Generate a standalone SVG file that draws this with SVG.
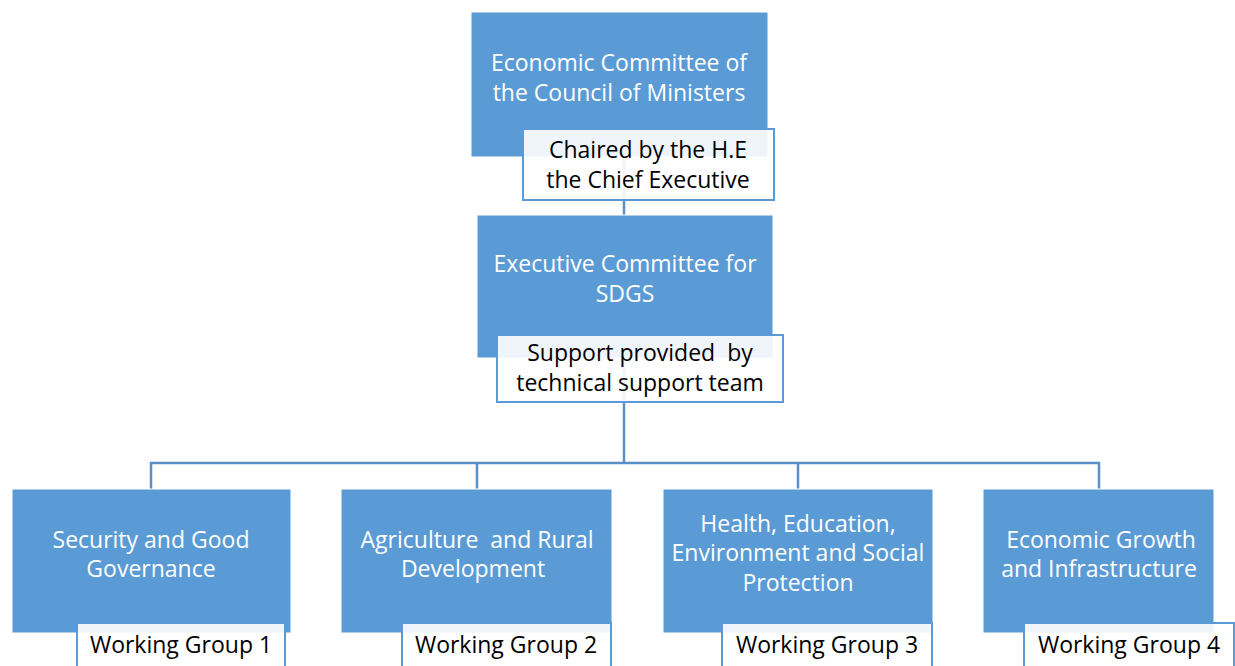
<svg xmlns="http://www.w3.org/2000/svg" width="1235" height="666" viewBox="0 0 1235 666">
<style>
.box{fill:#5b9bd5;stroke:#ffffff;stroke-width:1}
.lbl{fill:#ffffff;fill-opacity:0.9;stroke:#5b9bd5;stroke-width:2}
.wt{font-family:"Open Sans","Liberation Sans",sans-serif;font-size:23px;fill:#ffffff;text-anchor:middle}
.bt{font-family:"Open Sans","Liberation Sans",sans-serif;font-size:23px;fill:#000000;text-anchor:middle}
.con{fill:none;stroke:#5b8fc7;stroke-width:2.5}
</style>
<rect width="1235" height="666" fill="#ffffff"/>
<g id="connectors">
<line class="con" x1="624" y1="157" x2="624" y2="215"/>
<line class="con" x1="624" y1="358" x2="624" y2="463"/>
<polyline class="con" points="151,489 151,463 1099,463 1099,489"/>
<line class="con" x1="477" y1="463" x2="477" y2="489"/>
<line class="con" x1="798" y1="463" x2="798" y2="489"/>
</g>
<g id="n1">
<rect class="box" x="471" y="12" width="297" height="145"/>
<text class="wt" x="619" y="71">Economic Committee of</text>
<text class="wt" x="619" y="101">the Council of Ministers</text>
<rect class="lbl" x="523" y="129" width="251" height="71"/>
<text class="bt" x="648" y="158">Chaired by the H.E</text>
<text class="bt" x="648" y="188">the Chief Executive</text>
</g>
<g id="n2">
<rect class="box" x="477" y="215" width="296" height="143"/>
<text class="wt" x="625" y="272">Executive Committee for</text>
<text class="wt" x="625" y="302">SDGS</text>
<rect class="lbl" x="497" y="335" width="286" height="67"/>
<text class="bt" x="640" y="361" xml:space="preserve">Support provided  by</text>
<text class="bt" x="640" y="391">technical support team</text>
</g>
<g id="wg1">
<rect class="box" x="12" y="489" width="279" height="144"/>
<text class="wt" x="151" y="548">Security and Good</text>
<text class="wt" x="151" y="577">Governance</text>
<rect class="lbl" x="77" y="623" width="208" height="60"/>
<text class="bt" x="181" y="653">Working Group 1</text>
</g>
<g id="wg2">
<rect class="box" x="341" y="489" width="271" height="144"/>
<text class="wt" x="477" y="548" xml:space="preserve">Agriculture  and Rural</text>
<text class="wt" x="473" y="577">Development</text>
<rect class="lbl" x="402" y="623" width="209" height="60"/>
<text class="bt" x="506" y="653">Working Group 2</text>
</g>
<g id="wg3">
<rect class="box" x="663" y="489" width="270" height="144"/>
<text class="wt" x="798" y="532">Health, Education,</text>
<text class="wt" x="798" y="561">Environment and Social</text>
<text class="wt" x="798" y="591">Protection</text>
<rect class="lbl" x="722" y="623" width="210" height="60"/>
<text class="bt" x="827" y="653">Working Group 3</text>
</g>
<g id="wg4">
<rect class="box" x="983" y="489" width="231" height="144"/>
<text class="wt" x="1101" y="548">Economic Growth</text>
<text class="wt" x="1099" y="577">and Infrastructure</text>
<rect class="lbl" x="1024" y="623" width="210" height="60"/>
<text class="bt" x="1129" y="653">Working Group 4</text>
</g>
</svg>
